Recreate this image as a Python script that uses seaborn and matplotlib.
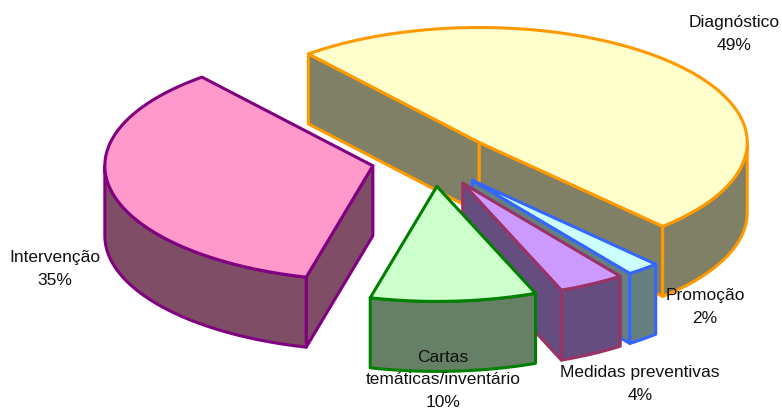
import numpy as np
import matplotlib
matplotlib.use("Agg")
import matplotlib.pyplot as plt
from matplotlib.patches import Polygon
import seaborn as sns

# Data
categories = ["Diagnóstico", "Promoção", "Medidas preventivas", "Cartas\ntemáticas/inventário", "Intervenção"]
values = [49, 2, 4, 10, 35]
percent_labels = ["49%", "2%", "4%", "10%", "35%"]
top_colors = ["#FFFFCC", "#CCFFFF", "#CC99FF", "#CCFFCC", "#FF99CC"]
edge_colors = ["#FF9900", "#3366FF", "#993366", "#008000", "#800080"]
label_x = [734, 705, 640, 443, 55]
label_y = [34, 307, 384, 380, 269]

# Layout of the projected pie
CX, CY = 433, 160
RX, RY = 268, 115
DEPTH = 70
EXPLODE = 0.23
START = 129.6
draw_order = [0, 1, 2, 4, 3]

sns.set_theme(style="white")
plt.rcParams["font.family"] = ["Liberation Sans", "DejaVu Sans"]

fig = plt.figure(figsize=(7.82, 4.18), dpi=100, facecolor="white")
ax = fig.add_axes([0, 0, 1, 1])
ax.set_xlim(0, 782)
ax.set_ylim(418, 0)
ax.axis("off")

shares = np.array(values, dtype=float) / np.sum(values)
ends = START - 360 * np.cumsum(shares)
starts = np.r_[START, ends[:-1]]


def pt(c, a):
    a = np.radians(a)
    return np.column_stack([c[0] + RX * np.cos(a), c[1] - RY * np.sin(a)])


for i in draw_order:
    a0, a1 = starts[i], ends[i]
    mid = np.radians((a0 + a1) / 2)
    c = (CX + EXPLODE * RX * np.cos(mid), CY - EXPLODE * RY * np.sin(mid))
    top = np.array(sns.desaturate(top_colors[i], 1.0))
    wall = tuple(top * 0.5)
    style = dict(facecolor=wall, edgecolor=edge_colors[i], linewidth=2.2, joinstyle="round")
    down = np.array([0, DEPTH])
    capex = np.array(c)

    # flat cut faces that look towards the viewer
    for ang, visible in ((a0, np.cos(np.radians(a0)) < 0), (a1, np.cos(np.radians(a1)) > 0)):
        if visible:
            p = pt(c, np.array([ang]))[0]
            ax.add_patch(Polygon([capex, p, p + down, capex + down], closed=True, **style))

    # outer rim: only the part on the near half of the ellipse
    th = np.linspace(a0, a1, 240)
    th = th[np.sin(np.radians(th)) <= 0]
    if th.size > 1:
        rim = pt(c, th)
        ax.add_patch(Polygon(np.vstack([rim, (rim + down)[::-1]]), closed=True, **style))

    # top face
    th = np.linspace(a0, a1, 240)
    ax.add_patch(Polygon(np.vstack([capex, pt(c, th)]), closed=True,
                         facecolor=top_colors[i], edgecolor=edge_colors[i],
                         linewidth=2.2, joinstyle="round"))

for name, pct, x, y in zip(categories, percent_labels, label_x, label_y):
    ax.text(x, y, f"{name}\n{pct}", ha="center", va="center", fontsize=12.5,
            color="#111111", linespacing=1.62, zorder=10)

fig.savefig("out.png", dpi=100, facecolor="white")
